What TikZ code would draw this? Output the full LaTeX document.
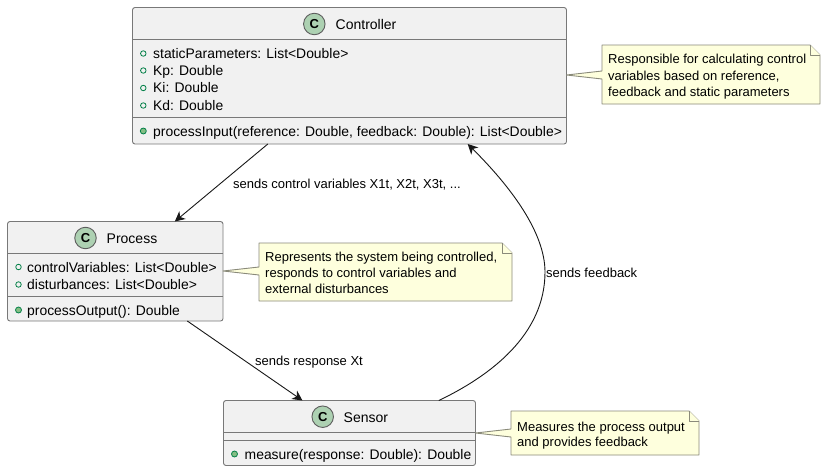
\documentclass[tikz,border=0pt]{standalone}
\usepackage{fontspec}
\setmainfont{Liberation Sans}
\usetikzlibrary{arrows.meta}
\definecolor{boxfill}{HTML}{F1F1F1}
\definecolor{boxline}{HTML}{787878}
\definecolor{notefill}{HTML}{FEFFDD}
\definecolor{noteline}{HTML}{8A8A7A}
\definecolor{spot}{HTML}{ADD1B2}
\definecolor{visline}{HTML}{038048}
\definecolor{visfill}{HTML}{84BE84}
\definecolor{ink}{HTML}{181818}
\tikzset{
  classbox/.style={draw=boxline,fill=boxfill,line width=0.9pt,rounded corners=2.5pt,inner sep=0pt,outer sep=0pt},
  divider/.style={draw=boxline,line width=0.9pt},
  spotc/.style={circle,draw=ink!70,fill=spot,line width=0.9pt,minimum size=21.5pt,inner sep=0pt,font=\fontsize{13}{13}\selectfont\bfseries,text=black},
  title/.style={anchor=base west,inner sep=0pt,font=\fontsize{14}{16}\selectfont,text=black},
  member/.style={anchor=base west,inner sep=0pt,font=\fontsize{13.9}{16}\selectfont,text=black},
  notetext/.style={anchor=base west,inner sep=0pt,font=\fontsize{13}{15}\selectfont,text=black},
  edgelabel/.style={anchor=base west,inner sep=0pt,font=\fontsize{13}{15}\selectfont,text=black},
  field/.style={circle,draw=visline,fill=none,line width=0.8pt,minimum size=5.5pt,inner sep=0pt},
  method/.style={circle,draw=visline,fill=visfill,line width=0.8pt,minimum size=6pt,inner sep=0pt},
  notebody/.style={draw=noteline,fill=notefill,line width=0.9pt,line join=round},
  link/.style={draw=ink,line width=0.9pt,-{Stealth[length=10pt,width=10pt,inset=3pt]}},
}
\begin{document}
\begin{tikzpicture}[x=1pt,y=-1pt]
\useasboundingbox[fill=white] (0,0) rectangle (826,471);

% Classes
\node[classbox,minimum width=434pt,minimum height=136.5pt] (ctrl) at (349.5,75.75) {};
\node[classbox,minimum width=215.5pt,minimum height=99.5pt] (proc) at (115.25,271.25) {};
\node[classbox,minimum width=252pt,minimum height=65pt] (sens) at (349.5,433) {};

\draw[divider] (ctrl.west |- 0,39) -- (ctrl.east |- 0,39);
\draw[divider] (ctrl.west |- 0,117) -- (ctrl.east |- 0,117);
\draw[divider] (proc.west |- 0,253) -- (proc.east |- 0,253);
\draw[divider] (proc.west |- 0,296) -- (proc.east |- 0,296);
\draw[divider] (sens.west |- 0,432) -- (sens.east |- 0,432);
\draw[divider] (sens.west |- 0,440) -- (sens.east |- 0,440);

% Controller
\node[spotc] (ctrlspot) at (314.3,24) {C};
\node[title] (ctrltitle) at (335.5,29) {Controller};
\node[field] (cf1) at (143.3,53.5) {};
\node[field] (cf2) at (143.3,70.5) {};
\node[field] (cf3) at (143.3,88) {};
\node[field] (cf4) at (143.3,105.5) {};
\node[method] (cm1) at (143.3,131) {};
\node[member] (cft1) at (153,58) {staticParameters: List<Double>};
\node[member] (cft2) at (153,75.3) {Kp: Double};
\node[member] (cft3) at (153,92.8) {Ki: Double};
\node[member] (cft4) at (153,110.2) {Kd: Double};
\node[member] (cmt1) at (153,136) {processInput(reference: Double, feedback: Double): List<Double>};

% Process
\node[spotc] (procspot) at (85.5,238) {C};
\node[title] (proctitle) at (106.5,243) {Process};
\node[field] (pf1) at (18.5,267) {};
\node[field] (pf2) at (18.5,284.5) {};
\node[method] (pm1) at (18.5,310) {};
\node[member] (pft1) at (27,272) {controlVariables: List<Double>};
\node[member] (pft2) at (27,289) {disturbances: List<Double>};
\node[member] (pmt1) at (27,315) {processOutput(): Double};

% Sensor
\node[spotc] (sensspot) at (322.7,416.7) {C};
\node[title] (senstitle) at (343.5,422) {Sensor};
\node[method] (sm1) at (234.5,454) {};
\node[member] (smt1) at (244.5,459) {measure(response: Double): Double};

% Notes
\draw[notebody] (602,45) -- (810,45) -- (820,55) -- (820,104) -- (602,104) -- (602,79) -- (566.5,75) -- (602,71) -- cycle;
\draw[notebody] (810,45) -- (810,55) -- (820,55);
\node[notetext] (n1a) at (608,63.5) {Responsible for calculating control};
\node[notetext] (n1b) at (608,80) {variables based on reference,};
\node[notetext] (n1c) at (608,96.5) {feedback and static parameters};

\draw[notebody] (259,243) -- (502,243) -- (512,253) -- (512,301) -- (259,301) -- (259,275) -- (223,271) -- (259,267) -- cycle;
\draw[notebody] (502,243) -- (502,253) -- (512,253);
\node[notetext] (n2a) at (265,261) {Represents the system being controlled,};
\node[notetext] (n2b) at (265,277) {responds to control variables and};
\node[notetext] (n2c) at (265,293) {external disturbances};

\draw[notebody] (511,411) -- (689,411) -- (699,421) -- (699,455) -- (511,455) -- (511,437) -- (475.5,433) -- (511,429) -- cycle;
\draw[notebody] (689,411) -- (689,421) -- (699,421);
\node[notetext] (n3a) at (517,431) {Measures the process output};
\node[notetext] (n3b) at (517,446) {and provides feedback};

% Connectors
\draw[link] (ctrl) -- (proc);
\draw[link] (proc) -- (sens);
\coordinate (fbmid) at (545,272);
\draw[link] (sens.20.2) .. controls (490,376) and (545,335) .. (fbmid) .. controls (545,232) and (510,186) .. (ctrl.-30.6);

\node[edgelabel] (l1) at (233,188) {sends control variables X1t, X2t, X3t, ...};
\node[edgelabel] (l2) at (255,365) {sends response Xt};
\node[edgelabel] (l3) at (546,277) {sends feedback};
\end{tikzpicture}
\end{document}
